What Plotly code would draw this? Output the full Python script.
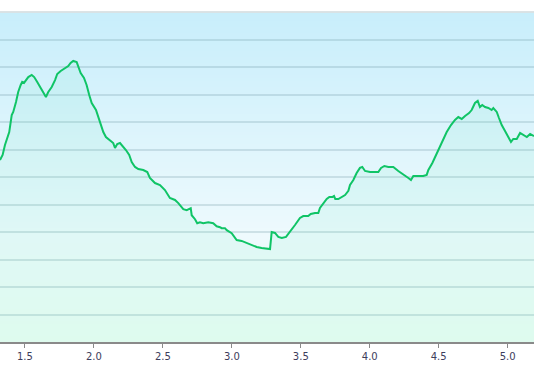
import plotly.graph_objects as go

# distance (km) and elevation (m)
distance = [1.319, 1.338, 1.355, 1.367, 1.386, 1.404, 1.415, 1.435, 1.451, 1.469, 1.480, 1.493,
            1.507, 1.524, 1.549, 1.567, 1.589, 1.609, 1.628, 1.652, 1.669, 1.694, 1.718, 1.734,
            1.759, 1.790, 1.814, 1.831, 1.850, 1.875, 1.889, 1.904, 1.928, 1.947, 1.966, 1.984,
            2.015, 2.032, 2.049, 2.068, 2.087, 2.111, 2.129, 2.140, 2.153, 2.169, 2.189, 2.208,
            2.232, 2.256, 2.274, 2.298, 2.322, 2.358, 2.387, 2.406, 2.443, 2.479, 2.515, 2.551,
            2.588, 2.612, 2.648, 2.673, 2.691, 2.702, 2.709, 2.733, 2.749, 2.769, 2.793, 2.829,
            2.865, 2.890, 2.914, 2.926, 2.950, 2.963, 2.999, 3.023, 3.035, 3.071, 3.108, 3.144,
            3.180, 3.216, 3.253, 3.277, 3.289, 3.313, 3.337, 3.362, 3.393, 3.422, 3.458, 3.494,
            3.518, 3.554, 3.572, 3.603, 3.627, 3.639, 3.663, 3.688, 3.707, 3.731, 3.741, 3.750,
            3.772, 3.797, 3.821, 3.845, 3.857, 3.881, 3.905, 3.929, 3.946, 3.966, 4.002, 4.038,
            4.062, 4.082, 4.106, 4.135, 4.171, 4.207, 4.243, 4.280, 4.299, 4.316, 4.352, 4.388,
            4.413, 4.425, 4.454, 4.486, 4.522, 4.558, 4.589, 4.618, 4.642, 4.667, 4.691, 4.720,
            4.739, 4.763, 4.783, 4.799, 4.816, 4.836, 4.860, 4.884, 4.896, 4.921, 4.937, 4.957,
            4.981, 5.005, 5.024, 5.041, 5.066, 5.090, 5.114, 5.139, 5.163, 5.191]
elevation = [192.4, 196.0, 203.3, 206.9, 212.7, 225.1, 227.3, 234.5, 241.8, 246.9, 249.1, 248.4,
             250.5, 252.7, 254.2, 252.7, 249.1, 245.5, 242.5, 238.2, 241.8, 245.5, 250.5, 254.9,
             257.1, 259.3, 260.7, 262.9, 264.4, 263.6, 260.0, 255.6, 252.0, 246.9, 239.6, 233.8,
             228.7, 223.6, 219.3, 212.7, 209.1, 206.9, 205.5, 204.7, 201.1, 204.0, 204.7, 202.5,
             199.6, 196.0, 190.9, 187.3, 185.8, 185.1, 183.6, 179.3, 175.6, 174.2, 170.5, 164.7,
             163.3, 161.0, 156.6, 155.9, 156.6, 157.3, 152.2, 149.3, 146.4, 147.1, 146.4, 147.1,
             146.4, 144.2, 143.5, 142.8, 142.8, 141.3, 139.1, 135.6, 134.1, 133.5, 132.0, 130.5,
             129.1, 128.4, 127.6, 127.6, 140.0, 139.3, 136.4, 135.6, 136.4, 140.0, 145.1, 150.2,
             151.6, 151.6, 153.1, 153.8, 153.8, 157.5, 161.1, 164.0, 165.5, 165.5, 166.2, 164.0,
             164.0, 165.5, 166.9, 169.9, 174.2, 177.8, 182.9, 186.6, 187.3, 184.4, 183.6, 183.6,
             183.6, 186.6, 188.0, 187.3, 187.3, 184.4, 182.2, 179.3, 177.8, 180.7, 180.7, 180.7,
             181.5, 185.1, 190.2, 197.5, 205.5, 212.7, 217.8, 221.5, 223.6, 222.2, 224.4, 226.5,
             228.7, 233.8, 235.3, 230.9, 232.4, 230.9, 230.2, 228.7, 230.2, 227.3, 222.9, 217.8,
             213.5, 208.4, 205.5, 207.7, 207.7, 212.0, 210.6, 209.1, 211.3, 209.8]

x_tick_values = [1.5, 2.0, 2.5, 3.0, 3.5, 4.0, 4.5, 5.0]
x_tick_labels = ["1.5", "2.0", "2.5", "3.0", "3.5", "4.0", "4.5", "5.0"]

x_min, x_max = 1.319, 5.191
y_min, y_max, y_step = 60, 300, 20

fig = go.Figure()

fig.add_trace(go.Scatter(
    x=distance, y=elevation, mode="lines",
    line=dict(color="#10c466", width=2),
    fill="tozeroy", fillcolor="rgba(40,220,150,0.07)",
    hoverinfo="skip", showlegend=False,
))

# vertical gradient background drawn as thin bands below the grid
stops = [(0.0, (236, 253, 245)), (0.32, (238, 250, 253)), (1.0, (200, 238, 251))]


def colour_at(t):
    for (t0, c0), (t1, c1) in zip(stops[:-1], stops[1:]):
        if t <= t1:
            f = (t - t0) / (t1 - t0)
            return "rgb(%d,%d,%d)" % tuple(round(a + (b - a) * f) for a, b in zip(c0, c1))
    return "rgb(%d,%d,%d)" % stops[-1][1]


n_bands = 110
for i in range(n_bands):
    fig.add_shape(type="rect", xref="paper", yref="paper", layer="below",
                  x0=0, x1=1, y0=i / n_bands, y1=(i + 1) / n_bands + 0.002,
                  fillcolor=colour_at((i + 0.5) / n_bands), line=dict(width=0))

fig.update_layout(
    width=534, height=379,
    margin=dict(l=0, r=0, t=12, b=37),
    paper_bgcolor="white", plot_bgcolor="white",
    xaxis=dict(range=[x_min, x_max], tickvals=x_tick_values, ticktext=x_tick_labels,
               showgrid=False, zeroline=False, showline=True, linecolor="#8a8a8a",
               linewidth=1.5, ticks="outside", ticklen=4, tickcolor="#8a8a8a",
               tickfont=dict(family="DejaVu Sans", size=10, color="#3d3d5c")),
    yaxis=dict(range=[y_min, y_max], dtick=y_step, tick0=y_min, showticklabels=False,
               showgrid=True, gridcolor="rgba(110,150,165,0.25)", gridwidth=2,
               zeroline=False, showline=False, ticks=""),
)
fig.add_shape(type="line", xref="paper", yref="paper", x0=0, x1=1, y0=1, y1=1,
              line=dict(color="#dedede", width=1.5), layer="above")

fig.write_html("out.html")
